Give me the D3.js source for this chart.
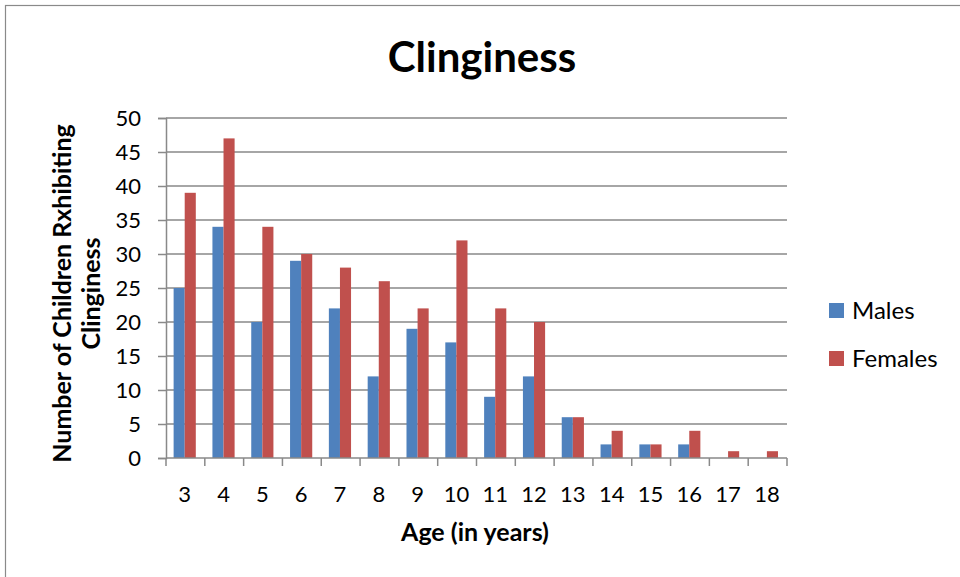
<!DOCTYPE html>
<html>
<head>
<meta charset="utf-8">
<script src="https://cdn.jsdelivr.net/npm/d3@7"></script>
<style>
  html, body { margin: 0; padding: 0; background: #fff; }
  svg { display: block; font-family: Lato, "Open Sans", sans-serif; }
</style>
</head>
<body>
<svg id="chart" width="960" height="577"></svg>
<script>
const categories = ["3","4","5","6","7","8","9","10","11","12","13","14","15","16","17","18"];
const males   = [25, 34, 20, 29, 22, 12, 19, 17, 9, 12, 6, 2, 2, 2, 0, 0];
const females = [39, 47, 34, 30, 28, 26, 22, 32, 22, 20, 6, 4, 2, 4, 1, 1];
const seriesNames = ["Males", "Females"];
const yTicks = [0, 5, 10, 15, 20, 25, 30, 35, 40, 45, 50];
const titleText = "Clinginess";
const xTitle = "Age (in years)";
const yTitleLines = ["Number of Children Rxhibiting", "Clinginess"];

const colors = ["#4F81BD", "#C0504D"];
const axisColor = "#898989";

const svg = d3.select("#chart");
const plot = { left: 166, right: 787, top: 118, bottom: 458 };

// outer chart border (extends past the window right/bottom)
svg.append("rect").attr("x", 5.5).attr("y", 5.5).attr("width", 1100).attr("height", 1100)
  .attr("fill", "none").attr("stroke", "#8a8a8a").attr("stroke-width", 1.2);

const x = d3.scaleBand().domain(categories).range([plot.left, plot.right]).paddingInner(0).paddingOuter(0);
const y = d3.scaleLinear().domain([0, 50]).range([plot.bottom, plot.top]);

// gap width 150% => group = 2 bars, gap = 1.5 bars
const barW = x.bandwidth() / 3.5;
const groupOffset = (x.bandwidth() - 2 * barW) / 2 - 0.7;
const xs = d3.scaleBand().domain(seriesNames).range([0, 2 * barW]).padding(0);

// gridlines
svg.append("g").selectAll("line").data(yTicks.filter(d => d > 0)).join("line")
  .attr("x1", plot.left).attr("x2", plot.right)
  .attr("y1", d => y(d)).attr("y2", d => y(d))
  .attr("stroke", axisColor).attr("stroke-width", 1.5);

// y axis
const yAxis = d3.axisLeft(y).tickValues(yTicks).tickSize(8).tickPadding(17).tickFormat(d3.format("d"));
const gy = svg.append("g").attr("transform", `translate(${plot.left},0)`).call(yAxis);
gy.select(".domain").attr("stroke", axisColor).attr("stroke-width", 1.5);
gy.selectAll(".tick line").attr("stroke", axisColor).attr("stroke-width", 1.5);
gy.selectAll(".tick text").attr("font-size", 22).attr("fill", "#000").attr("font-family", "Lato, sans-serif");

// bars
const data = categories.map((c, i) => ({ cat: c, values: [males[i], females[i]] }));
const groups = svg.append("g").selectAll("g").data(data).join("g")
  .attr("transform", d => `translate(${x(d.cat) + groupOffset},0)`);
groups.selectAll("rect").data(d => d.values.map((v, j) => ({ name: seriesNames[j], v, j })))
  .join("rect")
  .attr("x", d => xs(d.name))
  .attr("width", xs.bandwidth())
  .attr("y", d => y(d.v))
  .attr("height", d => y(0) - y(d.v))
  .attr("fill", d => colors[d.j]);

// x axis
const boundaries = categories.map(c => x(c)).concat([plot.right]);
const gx = svg.append("g");
gx.append("line").attr("x1", plot.left).attr("x2", plot.right).attr("y1", plot.bottom).attr("y2", plot.bottom)
  .attr("stroke", axisColor).attr("stroke-width", 1.5);
gx.selectAll("line.tk").data(boundaries).join("line").attr("class", "tk")
  .attr("x1", d => d).attr("x2", d => d).attr("y1", plot.bottom).attr("y2", plot.bottom + 8)
  .attr("stroke", axisColor).attr("stroke-width", 1.5);
gx.selectAll("text").data(categories).join("text")
  .attr("x", d => x(d) + x.bandwidth() / 2 - 0.7).attr("y", 502)
  .attr("text-anchor", "middle").attr("font-size", 22).attr("fill", "#000")
  .text(d => d);

// title
svg.append("text").attr("x", 482).attr("y", 72).attr("text-anchor", "middle")
  .attr("font-size", 42).attr("font-weight", "bold").attr("fill", "#000").text(titleText);

// x title
svg.append("text").attr("x", 475).attr("y", 541).attr("text-anchor", "middle")
  .attr("font-size", 25).attr("font-weight", "bold").attr("fill", "#000").text(xTitle);

// y title
yTitleLines.forEach((t, i) => {
  svg.append("text").attr("transform", `translate(${71 + i * 29},293.5) rotate(-90)`)
    .attr("text-anchor", "middle").attr("font-size", 25).attr("font-weight", "bold")
    .attr("fill", "#000").text(t);
});

// legend
const leg = svg.append("g");
seriesNames.forEach((n, i) => {
  leg.append("rect").attr("x", 829).attr("y", 303 + i * 48).attr("width", 15).attr("height", 15).attr("fill", colors[i]);
  leg.append("text").attr("x", 852).attr("y", 319 + i * 48).attr("font-size", 24).attr("fill", "#000").text(n);
});
</script>
</body>
</html>
